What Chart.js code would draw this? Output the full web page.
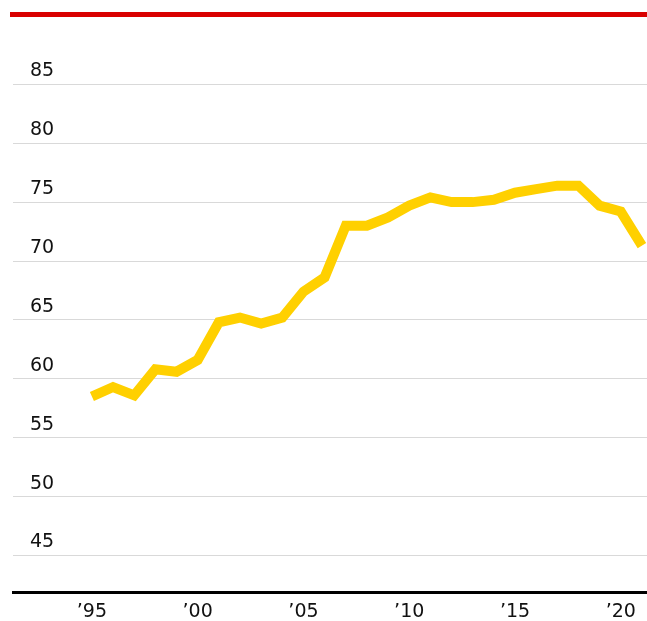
<!DOCTYPE html>
<html>
<head>
<meta charset="utf-8">
<script src="https://cdn.jsdelivr.net/npm/chart.js@4/dist/chart.umd.min.js"></script>
<style>
  html, body { margin: 0; padding: 0; background: #fff; }
  #wrap { width: 647px; height: 621px; position: relative; }
</style>
</head>
<body>
<div id="wrap"><canvas id="grafico"></canvas></div>
<script>
// Datos
const years = [1995, 1996, 1997, 1998, 1999, 2000, 2001, 2002, 2003, 2004,
               2005, 2006, 2007, 2008, 2009, 2010, 2011, 2012, 2013, 2014,
               2015, 2016, 2017, 2018, 2019, 2020, 2021];
const values = [58.5, 59.3, 58.6, 60.8, 60.6, 61.6, 64.8, 65.2, 64.7, 65.2,
                67.4, 68.6, 73.0, 73.0, 73.7, 74.7, 75.4, 75.0, 75.0, 75.2,
                75.8, 76.1, 76.4, 76.4, 74.7, 74.2, 71.3];
const xTickValues = [1995, 2000, 2005, 2010, 2015, 2020];
const xTickLabels = ['\u201995', '\u201900', '\u201905', '\u201910', '\u201915', '\u201920'];
const yTickValues = [45, 50, 55, 60, 65, 70, 75, 80, 85];

// Barra roja superior
const barraRoja = {
    id: 'barraRoja',
    beforeDraw(chart) {
        const ctx = chart.ctx;
        ctx.save();
        ctx.fillStyle = '#d90000';
        ctx.fillRect(10, 12, chart.width - 10, 5);
        ctx.restore();
    }
};

const fuente = { family: 'DejaVu Sans', size: 19 };

new Chart(document.getElementById('grafico'), {
    type: 'line',
    data: {
        datasets: [{
            data: years.map((y, i) => ({ x: y, y: values[i] })),
            borderColor: '#ffd000',
            borderWidth: 10,
            borderJoinStyle: 'miter',
            borderCapStyle: 'butt',
            pointRadius: 0,
            tension: 0,
            fill: false
        }]
    },
    options: {
        responsive: true,
        maintainAspectRatio: false,
        animation: false,
        layout: { padding: { top: 49, left: 0, right: 0, bottom: 0 } },
        plugins: {
            legend: { display: false },
            tooltip: { enabled: false },
            title: { display: false }
        },
        scales: {
            x: {
                type: 'linear',
                min: 1991.27,
                max: 2021.24,
                afterBuildTicks: scale => {
                    scale.ticks = xTickValues.map(v => ({ value: v }));
                },
                afterFit: scale => { scale.height = 29; },
                grid: { display: false, drawTicks: false },
                border: { display: true, color: '#000', width: 3 },
                ticks: {
                    color: '#111',
                    font: fuente,
                    padding: 9,
                    maxRotation: 0,
                    autoSkip: false,
                    callback: (v) => xTickLabels[xTickValues.indexOf(v)]
                }
            },
            y: {
                min: 41.9,
                max: 88,
                afterBuildTicks: scale => {
                    scale.ticks = yTickValues.map(v => ({ value: v }));
                },
                afterFit: scale => { scale.width = 13; },
                grid: { color: '#d9d9d9', lineWidth: 1, drawTicks: false },
                border: { display: false },
                ticks: {
                    color: '#111',
                    font: fuente,
                    mirror: true,
                    padding: 17,
                    labelOffset: -13,
                    z: 1
                }
            }
        }
    },
    plugins: [barraRoja]
});
</script>
</body>
</html>
